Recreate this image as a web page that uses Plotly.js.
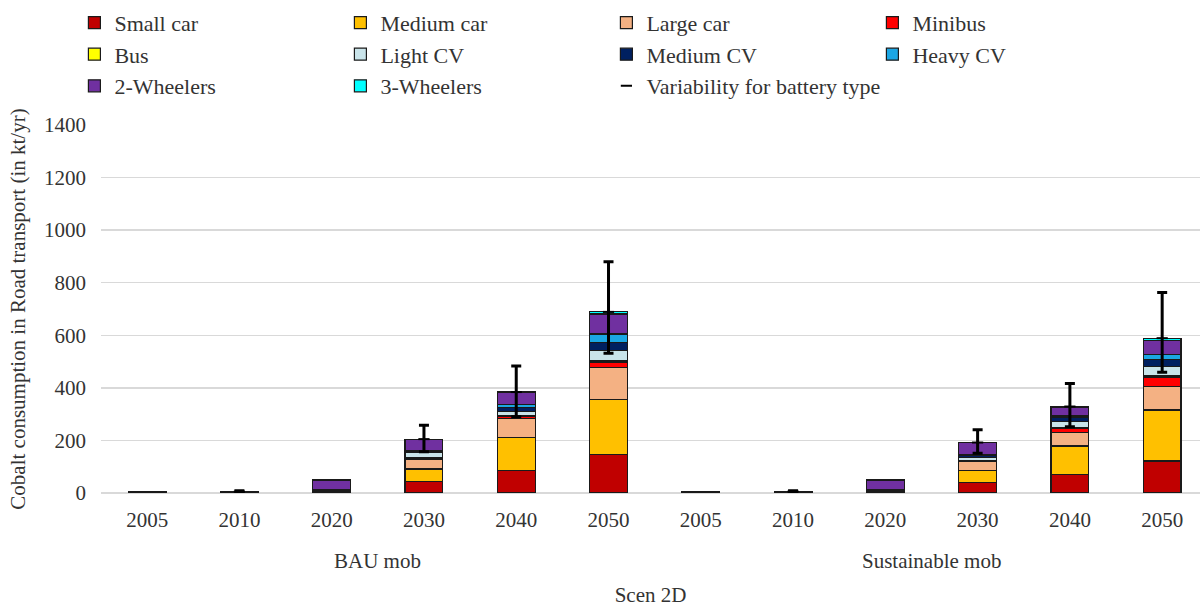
<!DOCTYPE html>
<html><head><meta charset="utf-8">
<script src="https://cdn.plot.ly/plotly-3.0.1.min.js"></script>
<style>html,body{margin:0;padding:0;background:#fff}#chart{width:1200px;height:607px}</style>
</head><body><div id="chart"></div>
<script>
// ---- data (kt/yr), order: BAU mob 2005..2050, Sustainable mob 2005..2050 ----
const scenarios = ['BAU mob', 'Sustainable mob'];
const years = ['2005', '2010', '2020', '2030', '2040', '2050'];
const seriesNames = ['Small car', 'Medium car', 'Large car', 'Minibus', 'Bus', 'Light CV', 'Medium CV', 'Heavy CV', '2-Wheelers', '3-Wheelers'];
const seriesColors = ['#C00000', '#FFC000', '#F4B183', '#FF0000', '#FFFF00', '#C9E4EA', '#002060', '#1BA6E4', '#7030A0', '#00FFFF'];

const smallCar      = [0.3, 0.5, 2, 45, 87, 147, 0.3, 0.5, 2, 39, 70, 122];
const mediumCar     = [0.3, 0.5, 2, 46, 125, 210, 0.3, 0.5, 2, 48, 109, 194];
const largeCar      = [0.2, 0.3, 1, 38, 70, 121, 0.2, 0.3, 1, 32, 52, 88];
const minibus       = [0, 0.1, 0.5, 4, 8, 20, 0, 0.1, 0.5, 3, 14, 35];
const bus           = [0.2, 0.3, 1, 2, 3, 4, 0.2, 0.3, 1, 2, 2, 6];
const lightCV       = [0.1, 0.2, 1, 18, 18, 40, 0.1, 0.2, 1, 10, 26, 36];
const mediumCV      = [0.2, 0.3, 3, 6, 14, 31, 0.2, 0.3, 3, 8, 16, 28];
const heavyCV       = [0.1, 0.1, 1, 4, 12, 32, 0.1, 0.1, 1, 4, 5, 17];
const twoWheelers   = [2.5, 3, 37, 40, 44, 76, 2.5, 3, 37, 45, 33, 53];
const threeWheelers = [0.1, 0.2, 1, 2, 3, 8, 0.1, 0.2, 1, 1, 2, 10];

// variability for battery type (above / below the stack total)
const errUp   = [null, 3, null, 53, 99, 191, null, 3, null, 49, 88, 174];
const errDown = [null, 1, null, 48, 94, 157, null, 1, null, 41, 77, 130];

const seriesValues = [smallCar, mediumCar, largeCar, minibus, bus, lightCV, mediumCV, heavyCV, twoWheelers, threeWheelers];

// ---- build ----
const xPos = [];
const tickText = [];
scenarios.forEach((s, i) => years.forEach((y, j) => { xPos.push(i * years.length + j); tickText.push(y); }));

const FONT = 'Liberation Serif, Times New Roman, serif';
const TXT = '#333333';

const traces = seriesNames.map((name, k) => ({
  type: 'bar',
  name: name,
  x: xPos,
  y: seriesValues[k],
  marker: { color: seriesColors[k], line: { color: '#1a1a1a', width: 1.2 } },
  hoverinfo: 'name+y'
}));

const totals = xPos.map((_, i) => seriesValues.reduce((a, arr) => a + arr[i], 0));
traces.push({
  type: 'scatter',
  mode: 'markers',
  name: 'Variability for battery type',
  x: xPos,
  y: totals.map((t, i) => errUp[i] === null ? null : t),
  marker: { symbol: 'line-ew', size: 8, color: '#000', line: { color: '#000', width: 2 } },
  error_y: {
    type: 'data', symmetric: false,
    array: errUp.map(v => v === null ? 0 : v),
    arrayminus: errDown.map(v => v === null ? 0 : v),
    color: '#000', thickness: 3, width: 5
  },
  hoverinfo: 'y'
});

const annotations = scenarios.map((s, i) => ({
  text: s, xref: 'x', yref: 'paper',
  x: i * years.length + (years.length - 1) / 2, y: -0.184,
  xanchor: 'center', yanchor: 'middle', showarrow: false,
  font: { family: FONT, size: 21, color: TXT }
}));

const layout = {
  width: 1200, height: 607,
  margin: { l: 101, r: 0, t: 125, b: 114 },
  paper_bgcolor: '#fff', plot_bgcolor: '#fff',
  barmode: 'stack',
  bargap: 0.59,
  showlegend: true,
  legend: {
    orientation: 'h', xref: 'container', yref: 'container',
    x: 0.062, y: 0.997, xanchor: 'left', yanchor: 'top',
    entrywidth: 221, entrywidthmode: 'pixels',
    traceorder: 'normal',
    font: { family: FONT, size: 22, color: TXT },
    itemwidth: 30, tracegroupgap: 0
  },
  xaxis: {
    range: [-0.5, 11.41],
    tickvals: xPos, ticktext: tickText,
    showgrid: false, zeroline: false, showline: false, ticks: '',
    ticklabelstandoff: 12,
    tickfont: { family: FONT, size: 21, color: TXT },
    title: { text: 'Scen 2D', font: { family: FONT, size: 21, color: TXT }, standoff: 64 },
    automargin: false
  },
  yaxis: {
    range: [0, 1400], dtick: 200,
    showgrid: true, gridcolor: '#d9d9d9', gridwidth: 1.5,
    zeroline: true, zerolinecolor: '#d9d9d9', zerolinewidth: 1.5,
    showline: false, ticks: '',
    ticklabelstandoff: 14,
    tickfont: { family: FONT, size: 21, color: TXT },
    title: { text: 'Cobalt consumption in Road transport (in kt/yr)', font: { family: FONT, size: 21, color: TXT }, standoff: 12 },
    automargin: false
  },
  annotations: annotations
};

Plotly.newPlot('chart', traces, layout, { displayModeBar: false, staticPlot: true });
</script>
</body></html>
